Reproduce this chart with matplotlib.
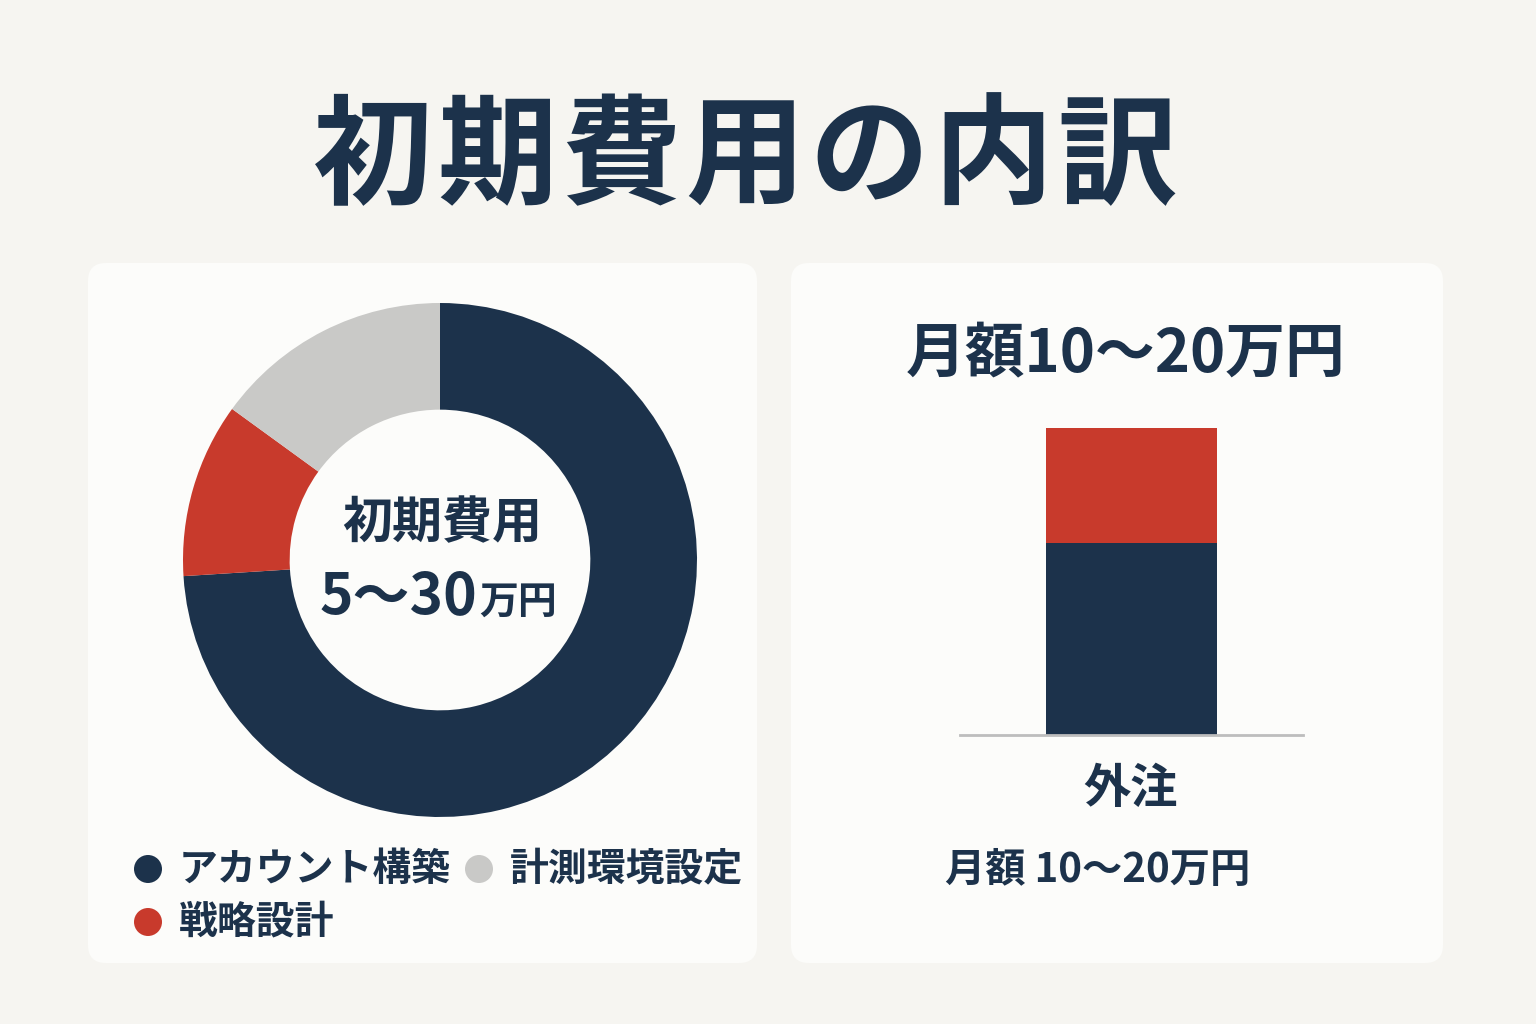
import matplotlib
matplotlib.use("Agg")
import matplotlib.pyplot as plt
from matplotlib.patches import FancyBboxPatch, Circle

plt.rcParams['font.family'] = ['Noto Sans CJK JP', 'DejaVu Sans']

# data
title = "初期費用の内訳"
pie_labels = ["アカウント構築", "戦略設計", "計測環境設定"]
pie_values = [74, 11, 15]
bar_category = "外注"
bar_parts = [12.5, 7.5]          # navy bottom, red top (万円)
bar_title = "月額10〜20万円"
bar_note = "月額 10〜20万円"

NAVY = "#1C324B"
RED = "#C83A2C"
GRAY = "#C9C9C7"
BG = "#F6F5F1"
CARD = "#FCFCFA"
pie_colors = [NAVY, RED, GRAY]

W, H = 1536, 1024
fig = plt.figure(figsize=(W / 100, H / 100), dpi=100)
fig.patch.set_facecolor(BG)

# background layer in pixel coordinates
bg = fig.add_axes([0, 0, 1, 1], zorder=0)
bg.set_xlim(0, W)
bg.set_ylim(H, 0)
bg.axis("off")

for x0, x1 in [(88, 757), (791, 1443)]:
    bg.add_patch(FancyBboxPatch((x0, 263), x1 - x0, 700,
                                boxstyle="round,pad=0,rounding_size=18",
                                fc=CARD, ec="none"))

# title with a little letter spacing
step = 124
for i, ch in enumerate(title):
    bg.text(745 + (i - (len(title) - 1) / 2) * step, 160, ch, ha="center",
            va="center", fontsize=86, fontweight="bold", color=NAVY)


def px_axes(x0, y0, x1, y1, z=1):
    return fig.add_axes([x0 / W, 1 - y1 / H, (x1 - x0) / W, (y1 - y0) / H], zorder=z)


# donut
cx, cy, r = 440, 560, 257
ax = px_axes(cx - r, cy - r, cx + r, cy + r)
ax.pie(pie_values, colors=pie_colors, startangle=90, counterclock=False,
       radius=1, wedgeprops=dict(width=0.415, edgecolor="none"))
ax.set_xlim(-1, 1)
ax.set_ylim(-1, 1)
ax.set_aspect("equal")
ax.axis("off")

bg.text(442, 524, "初期費用", ha="center", va="center", fontsize=36,
        fontweight="bold", color=NAVY)
bg.text(477, 614, "5〜30", ha="right", va="baseline", fontsize=41,
        fontweight="bold", color=NAVY)
bg.text(479, 614, "万円", ha="left", va="baseline", fontsize=28,
        fontweight="bold", color=NAVY)

# legend
legend_pos = [(148, 869), (148, 922), (479, 869)]
for (lx, ly), lab, col in zip(legend_pos, pie_labels, pie_colors):
    bg.add_patch(Circle((lx, ly), 14, fc=col, ec="none"))
    bg.text(lx + 31, ly, lab, ha="left", va="center", fontsize=28,
            fontweight="bold", color=NAVY)

# stacked bar
bx = px_axes(960, 428, 1303, 735)
bx.set_facecolor("none")
bottom = 0
for val, col in zip(bar_parts, [NAVY, RED]):
    bx.bar([0], [val], width=0.5, bottom=bottom, color=col, edgecolor="none")
    bottom += val
bx.set_xlim(-0.5, 0.5)
bx.set_ylim(0, sum(bar_parts))
for s in ["top", "right", "left"]:
    bx.spines[s].set_visible(False)
bx.spines["bottom"].set_color("#BDBDBD")
bx.spines["bottom"].set_linewidth(2)
bx.set_xticks([])
bx.set_yticks([])

bg.text(1126, 354, bar_title, ha="center", va="center", fontsize=43,
        fontweight="bold", color=NAVY)
bg.text(1131, 789, bar_category, ha="center", va="center", fontsize=34,
        fontweight="bold", color=NAVY)
bg.text(1098, 871, bar_note, ha="center", va="center", fontsize=29,
        fontweight="bold", color=NAVY)

fig.savefig("out.png", dpi=100, facecolor=BG)
